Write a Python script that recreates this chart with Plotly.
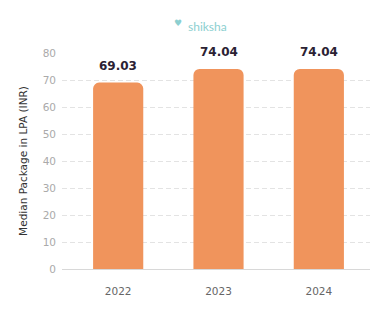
import plotly.graph_objects as go

years = ["2022", "2023", "2024"]
median_package = [69.03, 74.04, 74.04]
label_texts = ["69.03", "74.04", "74.04"]
y_ticks = [0, 10, 20, 30, 40, 50, 60, 70, 80]

fig = go.Figure()
fig.add_trace(go.Bar(
    x=years, y=median_package,
    width=0.5,
    marker=dict(color="#F0945C", cornerradius=6, line=dict(width=0)),
    hoverinfo="skip",
))

for i, (v, t) in enumerate(zip(median_package, label_texts)):
    fig.add_annotation(x=i, y=v, text="<b>" + t + "</b>", showarrow=False,
                       yanchor="bottom", yshift=8,
                       font=dict(family="DejaVu Sans, Arial", size=12, color="#2b2233"))

fig.add_annotation(xref="paper", yref="paper", x=0.473, y=1.0, yshift=36,
                   text="shiksha", showarrow=False, xanchor="center",
                   font=dict(family="Lato, Arial", size=12, color="#8ccfd0"))
fig.add_annotation(xref="paper", yref="paper", x=0.375, y=1.0, yshift=37,
                   text="♥", showarrow=False, xanchor="center",
                   font=dict(family="DejaVu Sans", size=9, color="#8ccfd0"))

fig.update_layout(
    width=382, height=336,
    margin=dict(l=62, r=12, t=53, b=67),
    paper_bgcolor="white", plot_bgcolor="white",
    showlegend=False,
    xaxis=dict(type="category", range=[-0.56, 2.51], showgrid=False,
               showline=False, ticks="", zeroline=False,
               tickfont=dict(family="DejaVu Sans, Arial", size=10.5, color="#666666"),
               ticklabelstandoff=14),
    yaxis=dict(range=[0, 80], tickvals=y_ticks, showgrid=True,
               gridcolor="#e3e3e3", griddash="5px,3px", gridwidth=1,
               zeroline=True, zerolinecolor="#d8d8d8", zerolinewidth=1,
               showline=False, ticks="",
               tickfont=dict(family="DejaVu Sans, Arial", size=10.5, color="#aaaaaa"),
               ticklabelstandoff=5,
               title=dict(text="Median Package in LPA (INR)", standoff=12,
                          font=dict(family="DejaVu Sans, Arial", size=10.5, color="#333333"))),
)

fig.write_html("out.html")
